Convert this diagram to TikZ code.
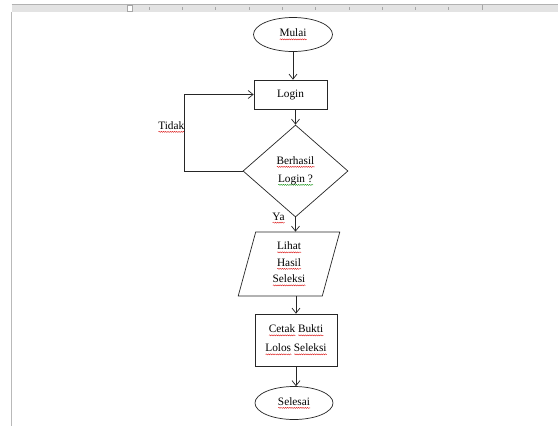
\documentclass[tikz,border=0pt]{standalone}
\usepackage{fontspec}
\setmainfont{Liberation Serif}
\usetikzlibrary{shapes.geometric,arrows.meta,decorations.pathmorphing}
\newlength\wvlen
\newcommand\wavyword[2]{\settowidth\wvlen{#2}\rlap{\tikz[baseline=0pt]\draw[#1,line width=0.35pt,decorate,decoration={snake,amplitude=0.55pt,segment length=2.2pt}] (0pt,-2.6pt) -- (\wvlen,-2.6pt);}#2}
\newcommand\redw[1]{\wavyword{red!85!black}{#1}}
\newcommand\grnw[1]{\wavyword{green!55!black}{#1}}
\begin{document}
\begin{tikzpicture}[x=1pt,y=-1pt,
  lnk/.style={draw=black!85, line width=0.7pt},
  arr/.style={lnk, -{Straight Barb[length=5pt,width=8pt]}},
  term/.style={ellipse, lnk, minimum width=79pt, minimum height=34pt, inner sep=0pt},
  proc/.style={rectangle, lnk, inner sep=0pt},
  dec/.style={diamond, lnk, minimum width=105pt, minimum height=92pt, inner sep=0pt, align=center},
  iobox/.style={trapezium, trapezium left angle=79, trapezium right angle=101, trapezium stretches=true, lnk, minimum width=102pt, minimum height=64pt, inner sep=0pt, align=center},
  font=\fontsize{11.3}{18}\selectfont]
\useasboundingbox (0,0) rectangle (558,426);
\fill[white] (0,0) rectangle (558,426);
% ruler and page edge
\fill[gray!22] (11.7,4) rectangle (558,12);
\draw[gray!60, line width=0.8pt] (11.7,4.4) -- (558,4.4);
\draw[gray!55, line width=1.2pt] (11.7,12) -- (11.7,426);
\draw[gray!70, fill=white, line width=0.6pt] (127.5,5.5) rectangle (132.5,11);
\foreach \i in {0,...,9} \draw[gray!70, line width=0.5pt] ({149+33.3*\i},7) -- ++(0,2.5);
\draw[gray!70, line width=0.6pt] (482,5) -- (482,10);
% nodes
\node[term] (mulai) at (293,34.5) {\redw{Mulai}};
\node[proc, minimum width=73pt, minimum height=29pt] (login) at (290.5,94.5) {Login};
\node[dec] (dec) at (295.5,171) {\redw{Berhasil}\\\grnw{Login ?}};
\node[iobox, font=\fontsize{11.3}{16.5}\selectfont] (io) at (289,264) {\redw{Lihat}\\\redw{Hasil}\\\redw{Seleksi}};
\node[proc, minimum width=82pt, minimum height=52pt, align=center, font=\fontsize{11.3}{19}\selectfont] (cetak) at (296,340) {\redw{Cetak} \redw{Bukti}\\\redw{Lolos} \redw{Seleksi}};
\node[term, minimum width=78pt, minimum height=33pt] (selesai) at (294,403) {\redw{Selesai}};
\node[anchor=east, inner sep=0pt] (tidak) at (184.5,127) {\redw{Tidak}};
\node[inner sep=0pt] (ya) at (278.5,218) {\redw{Ya}};
% connectors
\draw[arr] (mulai.south) -- (mulai.south |- login.north);
\draw[arr] (login.south -| dec.north) -- (dec.north);
\draw[arr] (dec.west) -- (dec.west -| tidak.east) |- (login.west);
\draw[arr] (dec.south) -- (dec.south |- io.north);
\draw[arr] (io.south -| cetak.north) -- (cetak.north);
\draw[arr] (cetak.south) -- (cetak.south |- selesai.north);
\end{tikzpicture}
\end{document}
